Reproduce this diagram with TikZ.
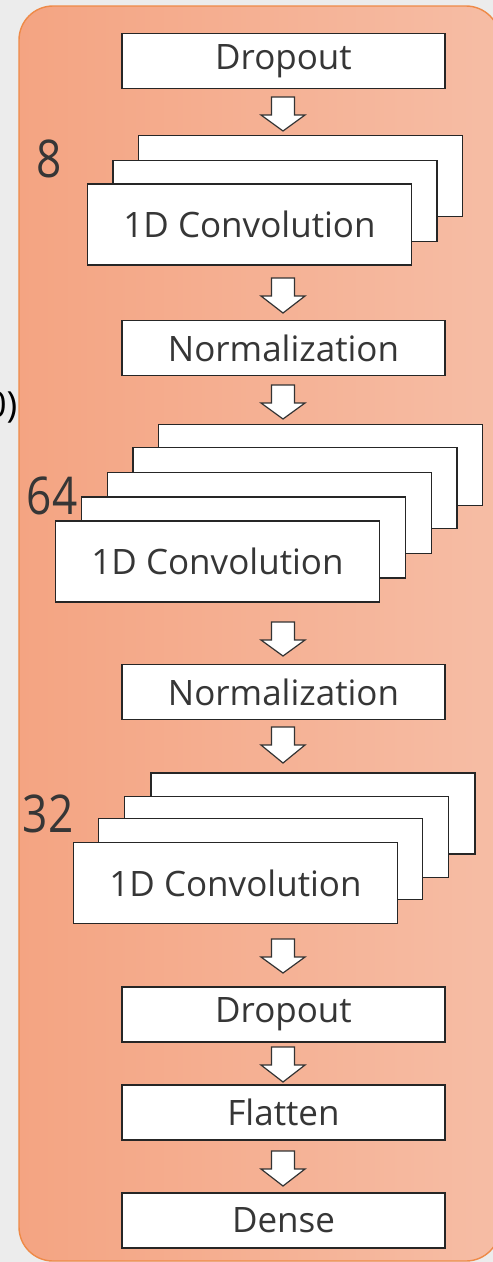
\documentclass[tikz,border=0pt]{standalone}
\usepackage{fontspec}
\setmainfont{Open Sans}
\definecolor{bggray}{HTML}{ECECEC}
\definecolor{panelL}{HTML}{F4A482}
\definecolor{panelR}{HTML}{F6BDA5}
\definecolor{panelB}{HTML}{EE8A48}
\definecolor{ink}{HTML}{363636}
\tikzset{
  layerbox/.style={draw=black!85, fill=white, line width=1.3pt, minimum width=323pt, minimum height=55pt, inner sep=0pt, text=ink, font=\fontsize{35}{42}\selectfont},
  convbox/.style={layerbox, minimum width=324pt, minimum height=81pt},
  countlabel/.style={text=ink, font=\fontsize{52}{52}\selectfont, xscale=0.85, inner sep=0pt},
  blockarrow/.style={draw=black!80, fill=white, line width=1.2pt, line join=miter}
}
\newcommand\barrow[2]{%
  \draw[blockarrow] (271.5,#1) -- (294.5,#1) -- (294.5,{#1+18}) -- (305,{#1+18}) -- (283,#2) -- (261,{#1+18}) -- (271.5,{#1+18}) -- cycle;}
\begin{document}
\begin{tikzpicture}[x=1pt,y=-1pt]
\useasboundingbox (0,0) rectangle (493,1262);
\fill[bggray] (0,0) rectangle (493,1262);
\draw[panelB, line width=1.4pt, left color=panelL, right color=panelR, rounded corners=34pt] (19,6) rectangle (500,1261);
\node[anchor=east, font=\fontsize{36}{36}\selectfont, text=black, inner sep=0pt] (pz) at (17.5,407) {0)};

\node[layerbox] (drop1) at (283.5,61) {Dropout};
\barrow{97}{131}
\node[convbox] (c1a) at (300.5,176) {};
\node[convbox] (c1b) at (275,201) {};
\node[convbox] (c1c) at (249.5,224.5) {1D Convolution};
\node[countlabel] (n8) at (49,159) {8};
\barrow{278}{313}
\node[layerbox] (norm1) at (283.5,348) {Normalization};
\barrow{385}{419}
\node[convbox] (c2a) at (320.5,465) {};
\node[convbox] (c2b) at (295,488) {};
\node[convbox] (c2c) at (269.5,513) {};
\node[convbox] (c2d) at (243.5,537.5) {};
\node[convbox] (c2e) at (217.5,561.5) {1D Convolution};
\node[countlabel] (n64) at (52,496) {64};
\barrow{622}{656}
\node[layerbox] (norm2) at (283.5,692) {Normalization};
\barrow{727}{763}
\node[convbox] (c3a) at (313,813.5) {};
\node[convbox] (c3b) at (286.5,837) {};
\node[convbox] (c3c) at (260.5,859) {};
\node[convbox] (c3d) at (235.5,883) {1D Convolution};
\node[countlabel] (n32) at (48,814) {32};
\barrow{939}{973}
\node[layerbox] (drop2) at (283.5,1014.5) {Dropout};
\barrow{1047}{1082}
\node[layerbox] (flat) at (283.5,1112.5) {Flatten};
\barrow{1151}{1186}
\node[layerbox] (dense) at (283.5,1220.5) {Dense};
\end{tikzpicture}
\end{document}
